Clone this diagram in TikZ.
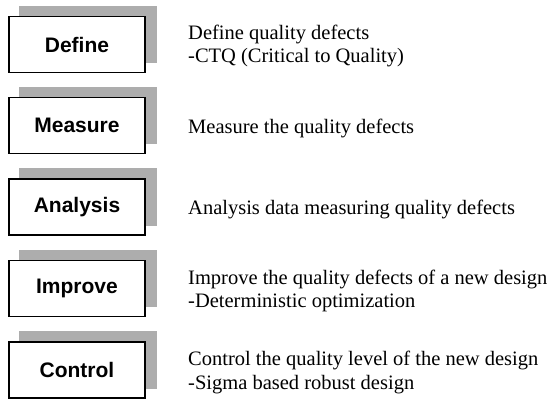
\documentclass[tikz,border=0pt]{standalone}
\usepackage{fontspec}
\setmainfont{Liberation Serif}
\newfontfamily\labelfont{Liberation Sans}
\usetikzlibrary{backgrounds}
\begin{document}
\begin{tikzpicture}[x=1pt,y=-1pt,
  stage/.style={draw=black, line width=1.1pt, fill=white,
    minimum width=136pt, minimum height=56pt, inner sep=0pt,
    font=\labelfont\bfseries\fontsize{21}{24}\selectfont},
  backshade/.style={fill=black!32, draw=none},
  note/.style={anchor=west, align=left, inner sep=0pt,
    font=\fontsize{20.5}{23.5}\selectfont}]
\useasboundingbox (0,0) rectangle (552,400);

% DMAIC stages
\node[stage] (define)   at (77,44.5)  {Define};
\node[stage] (measure)  at (77,125.5) {Measure};
\node[stage] (analysis) at (77,207)   {Analysis};
\node[stage] (improve)  at (77,288.5) {Improve};
\node[stage] (control)  at (77,370)   {Control};

% raised grey backing behind each stage box
\begin{scope}[on background layer]
  \foreach \n in {define,measure,analysis,improve,control}
    \fill[backshade] ([shift={(11,-10)}]\n.south west) rectangle ([shift={(11,-10)}]\n.north east);
\end{scope}

% descriptions
\node[note] (tdefine)   at (188,46)    {Define quality defects\\-CTQ (Critical to Quality)};
\node[note] (tmeasure)  at (188,128)   {Measure the quality defects};
\node[note] (tanalysis) at (188,209.5) {Analysis data measuring quality defects};
\node[note] (timprove)  at (188,291)   {Improve the quality defects of a new design\\-Deterministic optimization};
\node[note] (tcontrol)  at (188,372.5) {Control the quality level of the new design\\-Sigma based robust design};
\end{tikzpicture}
\end{document}
